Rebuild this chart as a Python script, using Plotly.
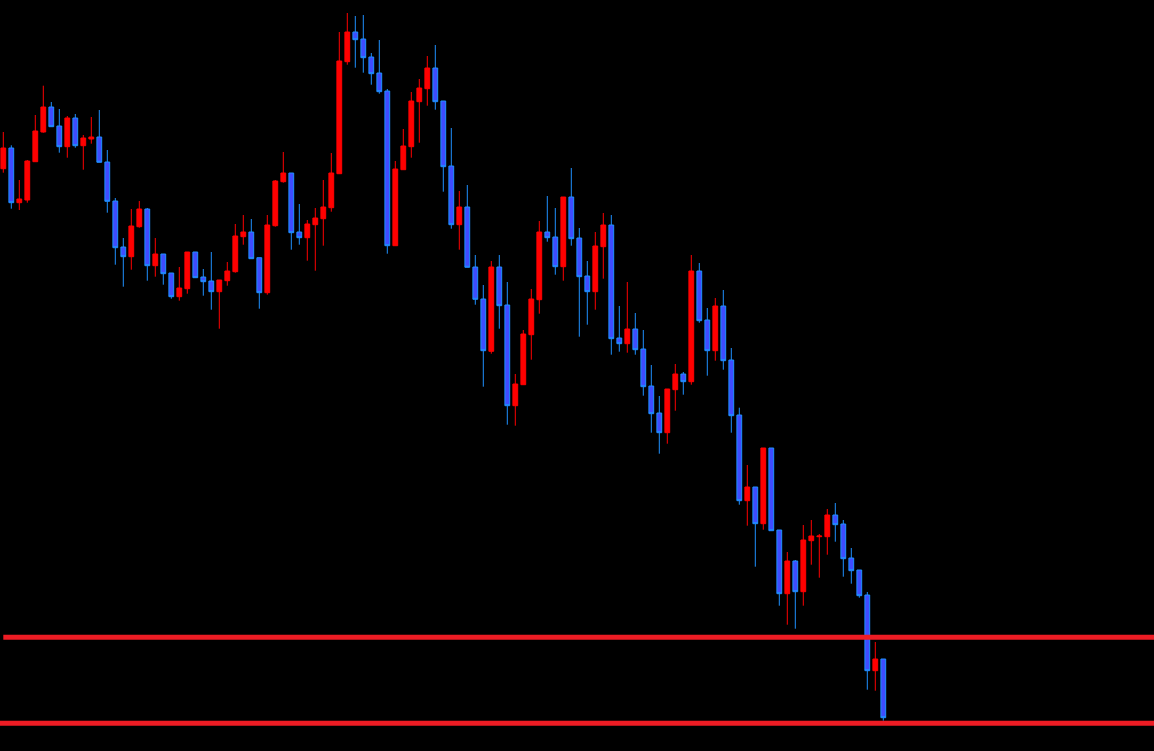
import plotly.graph_objects as go

# Price data (arbitrary price units), one value per bar
opens = [582.3, 603, 548.3, 551, 589.3, 619, 644, 625, 604.3, 633,
         605.3, 612, 614, 589, 550, 504, 494.3, 524.3, 542, 485.3,
         497, 478, 454.3, 462.3, 499, 474, 470, 459.3, 470.3, 479.3,
         514.3, 519, 493.3, 458.3, 525.3, 569.3, 578, 519, 513.3, 526.3,
         532.3, 543.3, 577.3, 689.3, 719, 712, 694, 678, 660, 505.3,
         581.3, 604.3, 649.3, 662.3, 683, 650, 585, 526.3, 544, 484,
         452, 399.7, 484, 446, 345.3, 366.3, 416.3, 451.3, 519, 514,
         484.3, 554, 513, 475, 459.3, 504.3, 526, 413, 407.3, 422,
         402, 365, 338, 318.3, 361.3, 377, 369.3, 480, 431, 400.3,
         445, 391, 336, 250.3, 264, 227.3, 303, 221, 157.3, 190,
         159.3, 210.3, 214.3, 214.3, 236, 227, 193, 181, 156, 80.3,
         92]
highs = [619, 605.7, 571, 591, 636, 665.3, 649, 642, 635, 637,
         616, 634, 641, 601, 553, 513, 542, 550, 543, 513,
         497, 478, 484, 499, 499, 482, 499, 471, 489, 527,
         536, 532, 493.3, 536, 571, 599, 578, 547, 531, 543,
         571, 598, 719, 738, 735, 736, 698, 711, 662, 590,
         622, 659, 672, 695, 706, 650, 623, 560, 566, 496,
         466, 490, 496, 469, 377, 421, 462, 530, 555, 543,
         554, 583, 523, 490, 519, 538, 536, 445, 469, 438,
         421, 386, 355, 362, 387, 379, 496, 488, 443, 453,
         461, 403, 343.3, 286, 264, 303, 303, 221, 199, 191,
         226, 231, 217, 242, 248, 231, 203, 181, 159, 109,
         92]
lows = [578.3, 542.3, 541, 548.3, 589.3, 618.3, 624.3, 598.3, 593.3, 603.3,
        581.3, 607.3, 588.7, 538.3, 486.3, 464.3, 481.3, 523.3, 470.3, 474.3,
        466.3, 452.3, 450.3, 457.3, 473.3, 455.3, 441.3, 422.3, 465.3, 478.3,
        506.3, 492.3, 442.3, 456.3, 524.3, 568.3, 501.3, 506.3, 490.3, 480.3,
        505.3, 539.3, 577.3, 686.3, 683.3, 678.3, 666.3, 657.3, 497.3, 505.3,
        581.3, 593.3, 608.3, 645.3, 641.3, 559.3, 522.3, 501.3, 483.7, 446.3,
        364.3, 397.3, 422.3, 326.3, 325.3, 366.3, 391.3, 437.3, 509.3, 476.3,
        470.3, 505.3, 414.3, 426.3, 441.3, 472.3, 396.3, 399.3, 398.3, 396.3,
        355.3, 318.3, 297.3, 307.3, 340.3, 356.3, 366.3, 428.3, 375.3, 390.3,
        381.3, 318.3, 246.3, 225.3, 184.3, 221.3, 220.3, 145.3, 126.3, 122.3,
        145.3, 186.3, 173.3, 196.3, 209.3, 174.3, 167.3, 153.3, 61.3, 60.3,
        30.3]
closes = [603, 548.3, 552, 590, 620, 644, 624.3, 604.3, 633, 605.3,
          613, 614, 588.7, 549.7, 503.3, 494.3, 525, 542, 485.3, 497,
          477.3, 454.3, 463, 499, 473.3, 469.3, 459.3, 471, 480, 515,
          519, 492.3, 458.3, 526, 570, 578, 518.3, 513.3, 527, 533,
          544, 578, 690, 719, 711.3, 693.3, 677.3, 659.3, 505.3, 582,
          605, 650, 663, 683, 649.3, 584.3, 526.3, 544, 483.7, 451.7,
          400.3, 484, 445.3, 345.3, 367, 417, 452, 519, 513.3, 484.3,
          554, 512.3, 474.3, 459.3, 505, 526, 412.3, 407.3, 422, 401.3,
          364.3, 337.3, 318.3, 362, 377, 369.3, 480, 430.3, 400.3, 445,
          390.3, 335.3, 250.3, 264, 227.3, 303, 220.3, 157.3, 190, 159.3,
          211, 215, 215, 236, 226.3, 192.3, 180.3, 155.3, 80.3, 92,
          33.3]
bars = list(range(len(opens)))

# Horizontal levels
level_prices = [113.7, 27.7]
level_start_bar = [0, None]   # None = from the left edge

UP = "#ff0000"
DOWN_FILL = "#3f4cff"
DOWN_LINE = "#1e90ff"
LEVEL = "#ed1c24"

fig = go.Figure(go.Candlestick(
    x=bars, open=opens, high=highs, low=lows, close=closes,
    increasing=dict(line=dict(color=UP, width=1), fillcolor=UP),
    decreasing=dict(line=dict(color=DOWN_LINE, width=1), fillcolor=DOWN_FILL),
    whiskerwidth=0,
    hoverinfo="skip",
))

for price, start in zip(level_prices, level_start_bar):
    if start is None:
        fig.add_shape(type="line", xref="paper", yref="y", x0=0, x1=1,
                      y0=price, y1=price, line=dict(color=LEVEL, width=5))
    else:
        fig.add_shape(type="line", xref="x", yref="y", x0=start, x1=200,
                      y0=price, y1=price, line=dict(color=LEVEL, width=5))

fig.update_layout(
    width=1154, height=751,
    margin=dict(l=0, r=0, t=0, b=0, pad=0),
    paper_bgcolor="#000000", plot_bgcolor="#000000",
    showlegend=False, hovermode=False,
    boxgap=0.4, boxgroupgap=0,
    xaxis=dict(visible=False, range=[-0.4125, 143.8375], rangeslider=dict(visible=False),
               fixedrange=True),
    yaxis=dict(visible=False, range=[0, 751], fixedrange=True),
)

fig.write_html("out.html", config={"displayModeBar": False},
               post_script="document.body.style.margin='0';document.body.style.overflow='hidden';")
